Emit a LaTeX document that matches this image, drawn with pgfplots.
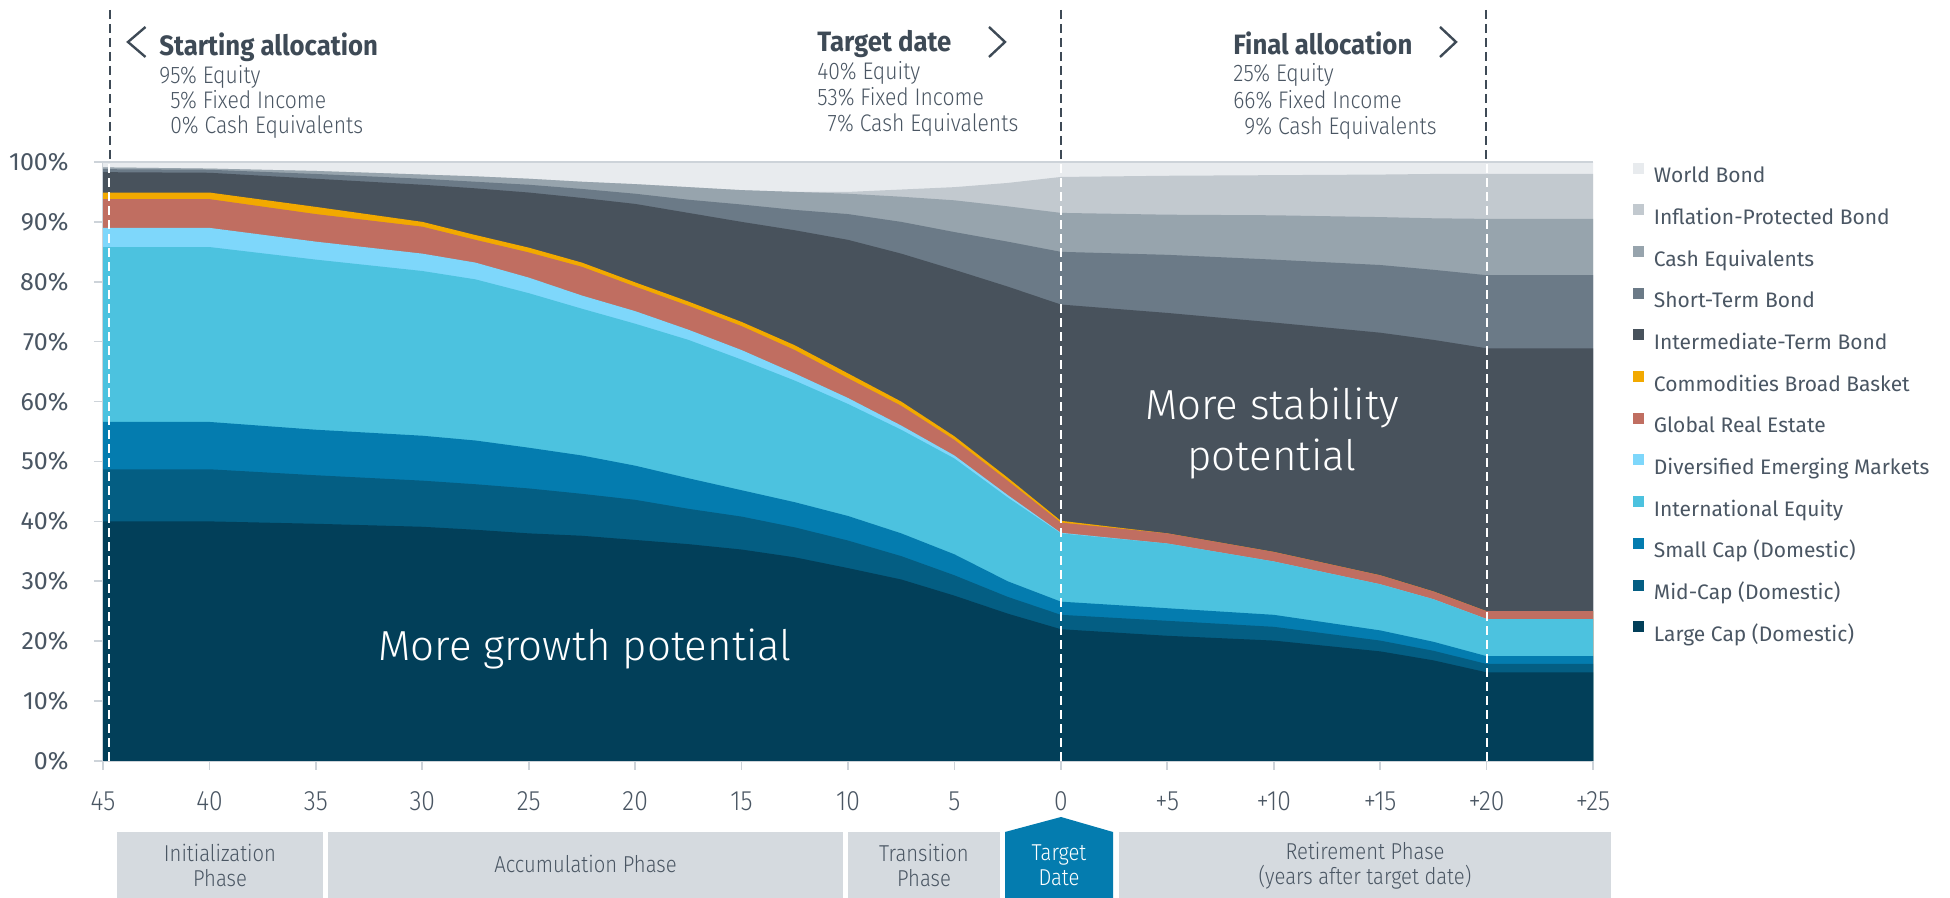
\documentclass[border=0pt]{standalone}
\usepackage{fontspec}
\setmainfont{Fira Sans}
\newfontfamily\condf[FakeStretch=0.88]{Fira Sans}
\newfontfamily\boldcondf[FakeStretch=0.92]{Fira Sans}
\newfontfamily\lightf{Fira Sans Light}
\newfontfamily\lightcondf[FakeStretch=0.88]{Fira Sans Light}
\usepackage{pgfplots}
\pgfplotsset{compat=1.18}
\usepackage{pgfplotstable}

\definecolor{cLC}{HTML}{023F59}
\definecolor{cMC}{HTML}{045E83}
\definecolor{cSC}{HTML}{047CAF}
\definecolor{cIE}{HTML}{4CC2DF}
\definecolor{cEM}{HTML}{7ED7FB}
\definecolor{cRE}{HTML}{C06E61}
\definecolor{cCO}{HTML}{F2A900}
\definecolor{cIT}{HTML}{48525C}
\definecolor{cST}{HTML}{6B7A87}
\definecolor{cCA}{HTML}{97A4AD}
\definecolor{cIP}{HTML}{C2C9CF}
\definecolor{cWB}{HTML}{E8EBEE}
\definecolor{txt}{HTML}{4A5663}
\definecolor{ttl}{HTML}{3E4A56}
\definecolor{axl}{HTML}{CDD3D9}
\definecolor{boxc}{HTML}{D5DADF}

% cumulative tops of each layer (percent)
\pgfplotstableread{
t     LC   MC   SC   IE   EM   RE   CO   IT   ST   CA   IP   WB
-45   40.0 48.7 56.6 85.8 89.0 93.8 94.9 98.3 98.8 99.1 99.1 100
-40   40.0 48.7 56.6 85.8 89.0 93.8 94.9 98.2 98.7 98.9 98.9 100
-35   39.6 47.7 55.3 83.7 86.7 91.3 92.5 97.2 98.0 98.5 98.5 100
-30   39.1 46.8 54.3 81.8 84.7 89.2 90.0 96.2 97.2 97.9 97.9 100
-27.5 38.6 46.2 53.5 80.4 83.2 87.0 87.8 95.6 96.7 97.6 97.6 100
-25   38.0 45.5 52.3 78.1 80.7 84.9 85.7 94.9 96.2 97.2 97.2 100
-22.5 37.6 44.6 51.0 75.5 77.7 82.5 83.2 94.0 95.5 96.7 96.7 100
-20   36.9 43.6 49.3 73.0 75.1 79.2 79.9 93.0 94.7 96.3 96.3 100
-17.5 36.2 42.1 47.2 70.3 72.0 76.0 76.7 91.5 93.7 95.8 95.8 100
-15   35.3 40.8 45.2 67.0 68.6 72.6 73.3 90.0 92.9 95.3 95.3 100
-12.5 34.0 39.0 43.2 63.5 64.7 68.6 69.4 88.6 92.0 95.0 95.0 100
-10   32.2 36.8 40.9 59.6 60.6 63.9 64.7 87.0 91.3 94.7 95.0 100
-7.5  30.3 34.2 38.0 55.3 56.0 59.3 60.0 84.7 90.0 94.2 95.4 100
-5    27.6 31.0 34.5 50.5 51.0 53.6 54.2 82.0 88.3 93.6 95.8 100
-2.5  24.6 27.4 30.0 44.0 44.4 46.8 47.3 79.2 86.7 92.6 96.5 100
0     22.0 24.4 26.6 38.0 38.1 39.8 40.1 76.2 85.0 91.5 97.5 100
5     20.9 23.4 25.5 36.3 36.3 38.0 38.0 74.8 84.5 91.2 97.7 100
10    20.1 22.4 24.4 33.3 33.3 34.9 34.9 73.2 83.7 91.1 97.8 100
15    18.3 20.1 21.8 29.5 29.5 31.0 31.0 71.5 82.8 90.8 97.9 100
17.5  16.8 18.4 19.9 27.0 27.0 28.3 28.3 70.3 82.0 90.6 98.0 100
20    14.8 16.2 17.5 23.7 23.7 25.0 25.0 68.9 81.1 90.5 98.0 100
25    14.8 16.2 17.5 23.7 23.7 25.0 25.0 68.9 81.1 90.5 98.0 100
}\alloc

\begin{document}
\begin{tikzpicture}
\useasboundingbox (0pt,0pt) rectangle (975pt,449pt);
\begin{axis}[
  at={(51.5pt,68.5pt)}, anchor=south west,
  scale only axis, width=745pt, height=299.5pt,
  xmin=-45, xmax=25, ymin=0, ymax=100,
  axis x line*=bottom, axis y line*=left,
  axis line style={axl, line width=0.8pt},
  tick style={axl, line width=0.8pt},
  tick align=outside, major tick length=4.5pt,
  xtick={-45,-40,...,25},
  xticklabels={45,40,35,30,25,20,15,10,5,0,+5,+10,+15,+20,+25},
  ytick={0,10,...,100},
  yticklabels={0\%,10\%,20\%,30\%,40\%,50\%,60\%,70\%,80\%,90\%,100\%},
  xticklabel style={font=\lightcondf\fontsize{14}{16}\selectfont, text=txt, inner sep=0pt, anchor=center, yshift=-15.5pt},
  yticklabel style={font=\fontsize{12.5}{15}\selectfont, text=txt, inner sep=0pt, anchor=east, xshift=-12.5pt},
  legend style={at={(1.0268,0.999)}, anchor=north west, draw=none, fill=none,
    inner sep=0pt, outer sep=0pt, font=\fontsize{10.5}{12.5}\selectfont, text=txt,
    row sep=10.8pt, column sep=5pt, nodes={inner sep=0pt, text height=7.3pt, text depth=0pt}},
  legend cell align=left,
  legend image code/.code={\fill[#1] (0pt,0.9pt) rectangle (5.5pt,6.4pt);},
  clip=false,
]
\addplot[fill=cWB, draw=none] table[x=t,y=WB]{\alloc} \closedcycle;
\addlegendentry{World Bond}
\addplot[fill=cIP, draw=none] table[x=t,y=IP]{\alloc} \closedcycle;
\addlegendentry{Inflation-Protected Bond}
\addplot[fill=cCA, draw=none] table[x=t,y=CA]{\alloc} \closedcycle;
\addlegendentry{Cash Equivalents}
\addplot[fill=cST, draw=none] table[x=t,y=ST]{\alloc} \closedcycle;
\addlegendentry{Short-Term Bond}
\addplot[fill=cIT, draw=none] table[x=t,y=IT]{\alloc} \closedcycle;
\addlegendentry{Intermediate-Term Bond}
\addplot[fill=cCO, draw=none] table[x=t,y=CO]{\alloc} \closedcycle;
\addlegendentry{Commodities Broad Basket}
\addplot[fill=cRE, draw=none] table[x=t,y=RE]{\alloc} \closedcycle;
\addlegendentry{Global Real Estate}
\addplot[fill=cEM, draw=none] table[x=t,y=EM]{\alloc} \closedcycle;
\addlegendentry{Diversified Emerging Markets}
\addplot[fill=cIE, draw=none] table[x=t,y=IE]{\alloc} \closedcycle;
\addlegendentry{International Equity}
\addplot[fill=cSC, draw=none] table[x=t,y=SC]{\alloc} \closedcycle;
\addlegendentry{Small Cap (Domestic)}
\addplot[fill=cMC, draw=none] table[x=t,y=MC]{\alloc} \closedcycle;
\addlegendentry{Mid-Cap (Domestic)}
\addplot[fill=cLC, draw=none] table[x=t,y=LC]{\alloc} \closedcycle;
\addlegendentry{Large Cap (Domestic)}
% white dashed markers inside the plot
\draw[white, line width=1pt, dash pattern=on 4.5pt off 2.5pt] (axis cs:-44.7,0) -- (axis cs:-44.7,100);
\draw[white, line width=1pt, dash pattern=on 4.5pt off 2.5pt] (axis cs:0,0) -- (axis cs:0,100);
\draw[white, line width=1pt, dash pattern=on 4.5pt off 2.5pt] (axis cs:20,0) -- (axis cs:20,100);
\end{axis}

% top border
\draw[axl, line width=0.8pt] (51.5pt,368pt) -- (796.5pt,368pt);

% dark dashed markers above the plot
\foreach \xx in {54.75,530.5,743} {
  \draw[ttl, line width=1pt, dash pattern=on 4.5pt off 2.5pt] (\xx pt,444pt) -- (\xx pt,368.5pt);
}

% annotations
\draw[ttl, line width=1.2pt] (72.75pt,435.5pt) -- (64pt,428pt) -- (72.75pt,420.5pt);
\node[anchor=base west, inner sep=0pt, text=ttl, font=\boldcondf\bfseries\fontsize{14}{16}\selectfont] at (79.5pt,421.2pt) {Starting allocation};
\node[anchor=base west, inner sep=0pt, text=txt, font=\lightcondf\fontsize{12}{14}\selectfont] at (79.5pt,407.4pt) {95\% Equity};
\node[anchor=base west, inner sep=0pt, text=txt, font=\lightcondf\fontsize{12}{14}\selectfont] at (79.5pt,394.9pt) {\phantom{9}5\% Fixed Income};
\node[anchor=base west, inner sep=0pt, text=txt, font=\lightcondf\fontsize{12}{14}\selectfont] at (79.5pt,382.4pt) {\phantom{9}0\% Cash Equivalents};

\draw[ttl, line width=1.2pt] (494.5pt,435.5pt) -- (502.5pt,428pt) -- (494.5pt,420.5pt);
\node[anchor=base west, inner sep=0pt, text=ttl, font=\boldcondf\bfseries\fontsize{14}{16}\selectfont] at (408.5pt,423.2pt) {Target date};
\node[anchor=base west, inner sep=0pt, text=txt, font=\lightcondf\fontsize{12}{14}\selectfont] at (408.5pt,409.4pt) {40\% Equity};
\node[anchor=base west, inner sep=0pt, text=txt, font=\lightcondf\fontsize{12}{14}\selectfont] at (408.5pt,396.4pt) {53\% Fixed Income};
\node[anchor=base west, inner sep=0pt, text=txt, font=\lightcondf\fontsize{12}{14}\selectfont] at (408.5pt,383.4pt) {\phantom{5}7\% Cash Equivalents};

\draw[ttl, line width=1.2pt] (720pt,435.5pt) -- (728pt,428pt) -- (720pt,420.5pt);
\node[anchor=base west, inner sep=0pt, text=ttl, font=\boldcondf\bfseries\fontsize{14}{16}\selectfont] at (616.5pt,421.7pt) {Final allocation};
\node[anchor=base west, inner sep=0pt, text=txt, font=\lightcondf\fontsize{12}{14}\selectfont] at (616.5pt,408.4pt) {25\% Equity};
\node[anchor=base west, inner sep=0pt, text=txt, font=\lightcondf\fontsize{12}{14}\selectfont] at (616.5pt,394.9pt) {66\% Fixed Income};
\node[anchor=base west, inner sep=0pt, text=txt, font=\lightcondf\fontsize{12}{14}\selectfont] at (616.5pt,381.9pt) {\phantom{6}9\% Cash Equivalents};

% in-plot labels
\node[text=white, font=\lightf\fontsize{21}{25}\selectfont, inner sep=0pt] at (292.5pt,124.5pt) {More growth potential};
\node[text=white, font=\lightf\fontsize{21}{25.5}\selectfont, align=center, inner sep=0pt] at (636pt,232.3pt) {More stability\\potential};

% phase boxes
\fill[boxc] (58.5pt,0pt) rectangle (161.5pt,33pt);
\fill[boxc] (164pt,0pt) rectangle (421.5pt,33pt);
\fill[boxc] (424pt,0pt) rectangle (500pt,33pt);
\fill[cSC] (502.5pt,0pt) -- (502.5pt,33pt) -- (530.5pt,40.5pt) -- (556.5pt,33pt) -- (556.5pt,0pt) -- cycle;
\fill[boxc] (559.5pt,0pt) rectangle (805.5pt,33pt);
\begin{scope}[every node/.style={align=center, inner sep=0pt, font=\lightcondf\fontsize{11.5}{12.5}\selectfont, text=txt}]
\node at (110pt,16.3pt) {Initialization\\Phase};
\node at (292.75pt,17pt) {Accumulation Phase};
\node at (462pt,16.3pt) {Transition\\Phase};
\node[text=white] at (529.5pt,16.3pt) {Target\\Date};
\node at (682.5pt,16.3pt) {Retirement Phase\\(years after target date)};
\end{scope}
\end{tikzpicture}
\end{document}
